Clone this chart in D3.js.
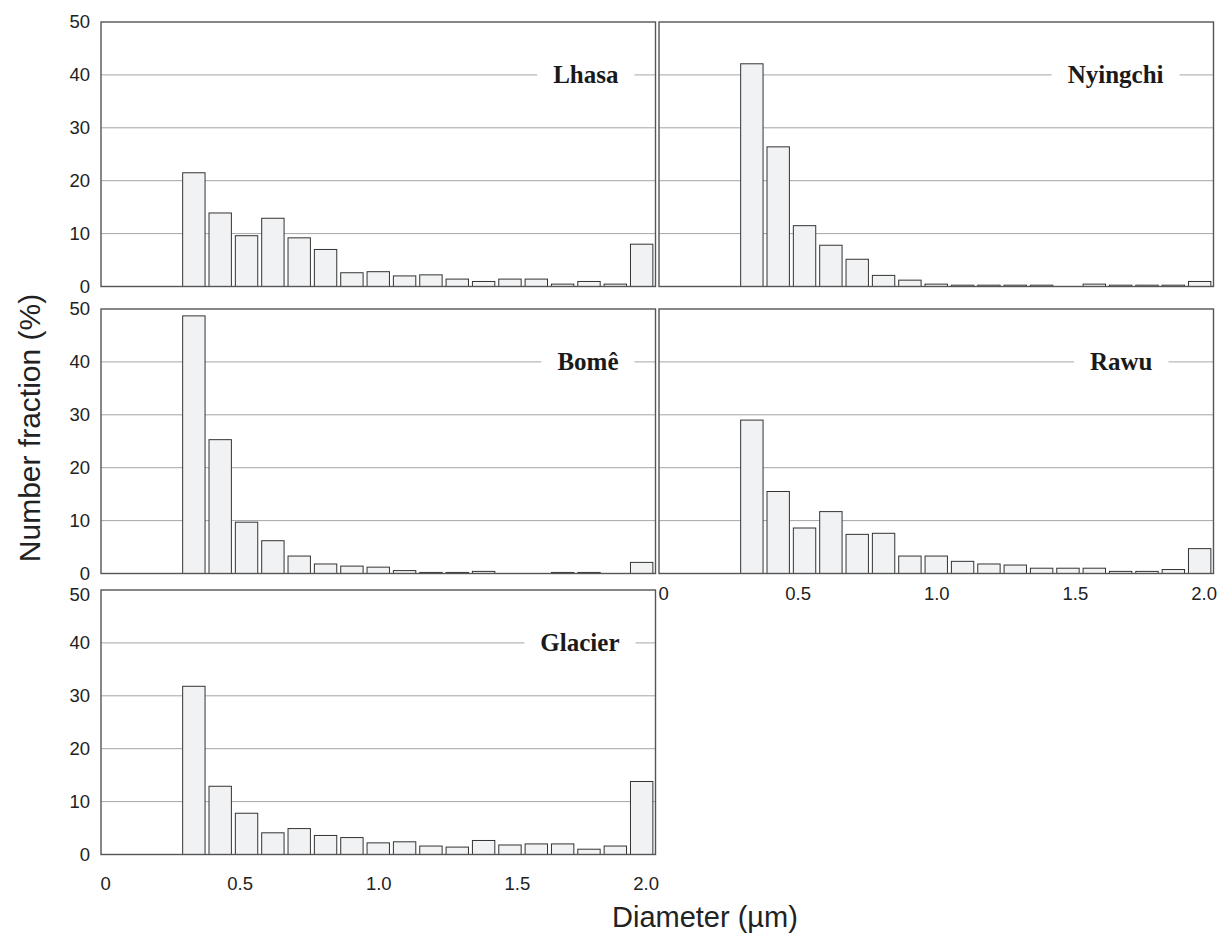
<!DOCTYPE html>
<html>
<head>
<meta charset="utf-8">
<script src="https://cdn.jsdelivr.net/npm/d3@7"></script>
<style>
  body { margin: 0; background: #fff; }
  svg { display: block; }
</style>
</head>
<body>
<div id="chart"></div>
<script>
/* DATA */
// size bins (µm), one bar per bin; first three bins are empty
const bins = ["0.0", "0.1", "0.2", "0.3", "0.4", "0.5", "0.6", "0.7", "0.8", "0.9", "1.0",
  "1.1", "1.2", "1.3", "1.4", "1.5", "1.6", "1.7", "1.8", "1.9", "2.0"];
const sites = ["Lhasa", "Nyingchi", "Bomê", "Rawu", "Glacier"];

// number fraction (%) per bin
const lhasa    = [0, 0, 0, 21.5, 13.9, 9.6, 12.9, 9.2, 7.0, 2.6, 2.8, 2.0, 2.2, 1.4, 0.95, 1.4, 1.4, 0.45, 0.95, 0.45, 8.0];
const nyingchi = [0, 0, 0, 42.1, 26.4, 11.5, 7.8, 5.15, 2.1, 1.2, 0.45, 0.25, 0.25, 0.25, 0.25, 0, 0.45, 0.25, 0.25, 0.25, 0.95];
const bome     = [0, 0, 0, 48.7, 25.3, 9.7, 6.2, 3.3, 1.8, 1.4, 1.2, 0.55, 0.2, 0.2, 0.4, 0, 0, 0.2, 0.2, 0, 2.1];
const rawu     = [0, 0, 0, 29.0, 15.5, 8.6, 11.7, 7.4, 7.6, 3.3, 3.3, 2.3, 1.8, 1.6, 1.0, 1.0, 1.0, 0.4, 0.4, 0.75, 4.7];
const glacier  = [0, 0, 0, 31.8, 12.9, 7.8, 4.1, 4.9, 3.6, 3.2, 2.2, 2.4, 1.6, 1.4, 2.65, 1.8, 2.0, 2.0, 1.0, 1.6, 13.8];
const seriesValues = [lhasa, nyingchi, bome, rawu, glacier];

const yTicks = [0, 10, 20, 30, 40, 50];
const xTicks = [0, 0.5, 1.0, 1.5, 2.0];
const xTickLabels = ["0", "0.5", "1.0", "1.5", "2.0"];

/* LAYOUT */
const width = 1220, height = 934;
const colX = [101, 659];
const rowY = [22, 309, 590];
const panelW = 554.5, panelH = 264.5;

// where each site goes; labelOff = distance of label end from right frame
const panels = [
  { site: 0, col: 0, row: 0, labelOff: 37 },
  { site: 1, col: 1, row: 0, labelOff: 50 },
  { site: 2, col: 0, row: 1, labelOff: 37 },
  { site: 3, col: 1, row: 1, labelOff: 61, xAxis: 13 },
  { site: 4, col: 0, row: 2, labelOff: 36, xAxis: 22, topShift: 5 }
];

const svg = d3.select("#chart")
  .append("svg")
  .attr("width", width)
  .attr("height", height);

const x = d3.scaleBand()
  .domain(bins)
  .range([0, panelW])
  .paddingInner(0.15)
  .paddingOuter(0.1);

const xLin = d3.scaleLinear()
  .domain([0, 2.0])
  .range([0, panelW]);

const y = d3.scaleLinear()
  .domain([0, 50])
  .range([panelH, 0]);

panels.forEach(p => {
  const g = svg.append("g")
    .attr("transform", `translate(${colX[p.col]},${rowY[p.row]})`);

  const values = seriesValues[p.site];

  // grid
  g.selectAll("line.grid")
    .data(yTicks.filter(t => t > 0 && t < 50))
    .join("line")
    .attr("class", "grid")
    .attr("x1", 0)
    .attr("x2", panelW)
    .attr("y1", d => y(d))
    .attr("y2", d => y(d))
    .attr("stroke", "#a6a6a6")
    .attr("stroke-width", 1);

  // bars
  g.selectAll("rect.bar")
    .data(bins.map((b, i) => ({ bin: b, v: values[i] })).filter(d => d.v > 0))
    .join("rect")
    .attr("class", "bar")
    .attr("x", d => x(d.bin))
    .attr("width", x.bandwidth())
    .attr("y", d => y(d.v))
    .attr("height", d => y(0) - y(d.v))
    .attr("fill", "#f1f2f4")
    .attr("stroke", "#333")
    .attr("stroke-width", 1);

  // site label sitting on the 40 line
  const lab = g.append("text")
    .attr("x", panelW - p.labelOff)
    .attr("y", y(40) + 8)
    .attr("text-anchor", "end")
    .attr("font-family", "'Liberation Serif', 'Times New Roman', serif")
    .attr("font-weight", "bold")
    .attr("font-size", 25)
    .attr("fill", "#1a1a1a")
    .text(sites[p.site]);
  const tw = lab.node().getComputedTextLength();
  g.insert("rect", "text")
    .attr("x", panelW - p.labelOff - tw - 16)
    .attr("y", y(40) - 6)
    .attr("width", tw + 32)
    .attr("height", 12)
    .attr("fill", "#fff");

  // frame
  g.append("rect")
    .attr("width", panelW)
    .attr("height", panelH)
    .attr("fill", "none")
    .attr("stroke", "#555")
    .attr("stroke-width", 1.4);

  // y labels on the left column
  if (p.col === 0) {
    const ya = g.append("g")
      .call(d3.axisLeft(y).tickValues(yTicks).tickSize(0).tickPadding(11));
    ya.select(".domain").remove();
    ya.selectAll("text")
      .attr("font-family", "'Liberation Sans', Arial, sans-serif")
      .attr("font-size", 18.5)
      .attr("fill", "#222")
      .attr("y", d => (d === 50 && p.topShift) ? p.topShift : 0);
  }

  // x labels
  if (p.xAxis) {
    const xa = g.append("g")
      .attr("transform", `translate(0,${panelH})`)
      .call(d3.axisBottom(xLin).tickValues(xTicks)
        .tickFormat((d, i) => xTickLabels[i]).tickSize(0).tickPadding(p.xAxis));
    xa.select(".domain").remove();
    xa.selectAll("text")
      .attr("font-family", "'Liberation Sans', Arial, sans-serif")
      .attr("font-size", 18.5)
      .attr("fill", "#222")
      .attr("text-anchor", (d, i) => i === 0 ? "start" : (i === xTicks.length - 1 ? "end" : "middle"))
      .attr("dx", (d, i) => i === 0 ? -1 : (i === xTicks.length - 1 ? 3 : 0));
  }
});

// axis titles
svg.append("text")
  .attr("transform", "translate(40,428) rotate(-90)")
  .attr("text-anchor", "middle")
  .attr("font-family", "'Liberation Sans', Arial, sans-serif")
  .attr("font-size", 30)
  .attr("fill", "#222")
  .text("Number fraction (%)");

svg.append("text")
  .attr("x", 612)
  .attr("y", 927)
  .attr("font-family", "'Liberation Sans', Arial, sans-serif")
  .attr("font-size", 29)
  .attr("fill", "#222")
  .text("Diameter (µm)");
</script>
</body>
</html>
